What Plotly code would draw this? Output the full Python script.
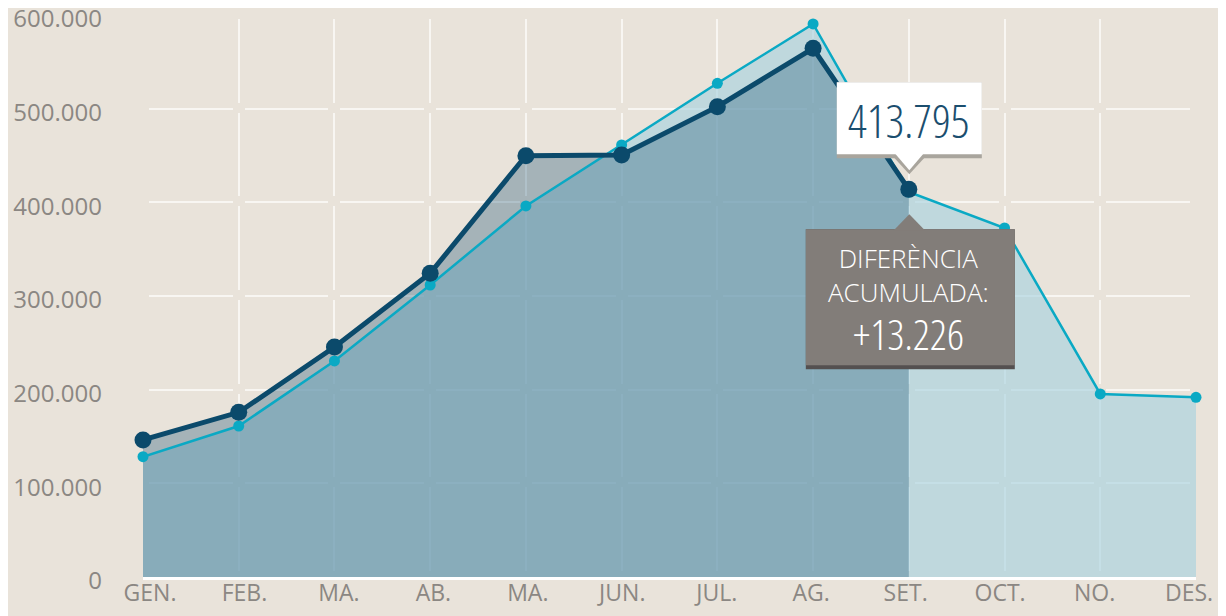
import plotly.graph_objects as go

months = ["GEN.", "FEB.", "MA.", "AB.", "MA.", "JUN.", "JUL.", "AG.", "SET.", "OCT.", "NO.", "DES."]
current_year = [146300, 175800, 245500, 324200, 449800, 450500, 502100, 564400, 413795]
previous_year = [128400, 161200, 230600, 311700, 396100, 461200, 527000, 590400, 411000, 372600, 195400, 191800]
y_ticks = [0, 100000, 200000, 300000, 400000, 500000, 600000]
y_tick_labels = ["0", "100.000", "200.000", "300.000", "400.000", "500.000", "600.000"]
tip_value = "413.795"
tip_diff_title = "DIFERÈNCIA<br>ACUMULADA:"
tip_diff_value = "+13.226"

x_all = list(range(len(months)))
x_cur = x_all[:len(current_year)]

BG = "#e9e3da"
DARK = "#0b4a6b"
CYAN = "#0aa9c4"
GRID = "#f8f6f2"
LABEL = "#8b8783"

fig = go.Figure()

fig.add_trace(go.Scatter(x=x_all, y=previous_year, mode="none", fill="tozeroy",
                         fillcolor="rgba(169,211,223,0.65)", hoverinfo="skip", showlegend=False))
fig.add_trace(go.Scatter(x=x_cur, y=current_year, mode="none", fill="tozeroy",
                         fillcolor="rgba(9,69,107,0.30)", hoverinfo="skip", showlegend=False))
fig.add_trace(go.Scatter(x=x_all, y=previous_year, mode="lines+markers",
                         line=dict(color=CYAN, width=2.5), marker=dict(color=CYAN, size=11),
                         cliponaxis=False, hoverinfo="skip", showlegend=False))
fig.add_trace(go.Scatter(x=x_cur, y=current_year, mode="lines+markers",
                         line=dict(color=DARK, width=5), marker=dict(color=DARK, size=17),
                         cliponaxis=False, hoverinfo="skip", showlegend=False))
# invisible trace carrying the month-label axis
fig.add_trace(go.Scatter(x=x_all, y=[None] * len(x_all), xaxis="x2", mode="none",
                         hoverinfo="skip", showlegend=False))

ax_i = x_cur[-1]
ay_v = current_year[-1]


def pshape(kind, x0=None, x1=None, y0=None, y1=None, path=None, color="white"):
    d = dict(type=kind, xref="x", yref="y", xsizemode="pixel", ysizemode="pixel",
             xanchor=ax_i, yanchor=ay_v, fillcolor=color, line=dict(width=0), layer="above")
    if kind == "path":
        d["path"] = path
    else:
        d.update(x0=x0, x1=x1, y0=y0, y1=y1)
    return d


shapes = [
    pshape("rect", -72, 73, 31, 107, color="#a9a59d"),
    pshape("path", path="M -16 33 L 17 33 L 0.5 15 Z", color="#a9a59d"),
    pshape("rect", -72, 73, 35, 107, color="#ffffff"),
    pshape("path", path="M -14 36 L 15 36 L 0.5 19 Z", color="#ffffff"),
    pshape("rect", -103, 106, -40, -180, color="#545050"),
    pshape("rect", -103, 106, -40, -176, color="#827d79"),
    pshape("path", path="M -15 -41 L 16 -41 L 0.5 -25 Z", color="#827d79"),
]


def condensed(t):
    return '<span style="font-stretch:75%">' + t + "</span>"


annotations = [
    dict(x=ax_i, y=ay_v, xref="x", yref="y", text=condensed(tip_value), showarrow=False,
         xanchor="center", yanchor="middle", xshift=0, yshift=69,
         font=dict(family="Open Sans", size=46, weight=300, color="#1b4e6e")),
    dict(x=ax_i, y=ay_v, xref="x", yref="y", text=tip_diff_title, showarrow=False,
         xanchor="center", yanchor="middle", xshift=0, yshift=-86, align="center",
         font=dict(family="Open Sans", size=26, weight=300, color="#ffffff")),
    dict(x=ax_i, y=ay_v, xref="x", yref="y", text=condensed(tip_diff_value), showarrow=False,
         xanchor="center", yanchor="middle", xshift=0, yshift=-144,
         font=dict(family="Open Sans", size=42, weight=300, color="#ffffff")),
]

fig.update_layout(
    width=1218, height=608,
    margin=dict(l=135, r=30, t=6, b=39),
    paper_bgcolor=BG, plot_bgcolor=BG,
    hovermode=False,
    shapes=shapes,
    annotations=annotations,
    font=dict(family="Open Sans", color=LABEL),
    xaxis=dict(range=[x_all[0], x_all[-1]], tickmode="array", tickvals=x_all, showticklabels=False,
               showgrid=True, gridcolor=GRID, gridwidth=2, griddash="0px,5px,83.68px,5px",
               zeroline=False, showline=True, linecolor="#ffffff", linewidth=3, automargin=False,
               ticks="", fixedrange=True),
    xaxis2=dict(overlaying="x", anchor="y", side="bottom", range=[-0.0741, 11.074],
                tickmode="array", tickvals=x_all, ticktext=months,
                showgrid=False, zeroline=False, showline=False, ticks="", automargin=False,
                tickfont=dict(family="Open Sans", size=23, color=LABEL), fixedrange=True),
    yaxis=dict(range=[0, 601000], tickmode="array", tickvals=y_ticks, ticktext=y_tick_labels,
               showgrid=True, gridcolor=GRID, gridwidth=2, griddash="0px,6px,83.73px,6px",
               zeroline=False, showline=False, ticks="", ticklabelstandoff=40, automargin=False,
               ticklabeloverflow="allow", ticklabelshift=4,
               tickfont=dict(family="Open Sans", size=24, color=LABEL),
               fixedrange=True),
)

fig.write_html("out.html")
